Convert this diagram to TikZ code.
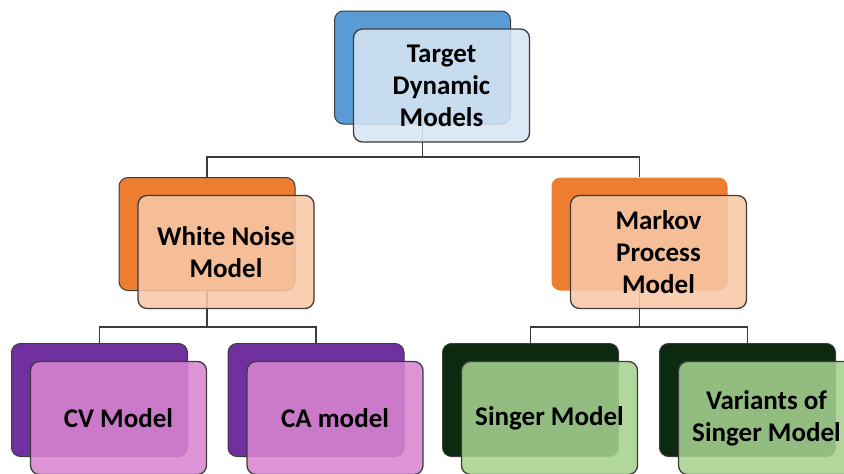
\documentclass[tikz,border=0pt]{standalone}
\usepackage{fontspec}
\setmainfont{Carlito}
\usetikzlibrary{backgrounds}

\definecolor{blueback}{RGB}{91,155,213}
\definecolor{bluefront}{RGB}{216,229,244}
\definecolor{orangeback}{RGB}{237,125,49}
\definecolor{orangefront}{RGB}{247,200,166}
\definecolor{purpleback}{RGB}{112,48,160}
\definecolor{purplefront}{RGB}{216,133,208}
\definecolor{greenback}{RGB}{12,42,15}
\definecolor{greenfront}{RGB}{166,210,144}
\definecolor{edge}{RGB}{60,60,60}

\tikzset{
  card/.style={rectangle, rounded corners=9pt, minimum width=176pt,
    minimum height=113pt, inner sep=0pt},
  backcard/.style={card, fill=#1, draw=edge, line width=1pt},
  backplain/.style={card, fill=#1},
  frontcard/.style={card, fill=#1, fill opacity=0.88, text opacity=1,
    draw=edge, draw opacity=1, line width=1.3pt, align=center,
    font=\bfseries\fontsize{27}{32}\selectfont},
  conn/.style={draw=edge, line width=1.3pt},
}

\begin{document}
\begin{tikzpicture}[x=1pt, y=-1pt]
  \clip (0,0) rectangle (844,474);

  % root
  \node[backcard=blueback] (top) at (422.5,67.5) {};
  \node[frontcard=bluefront] (topf) at (441.5,85.5) {Target\\Dynamic\\Models};

  % second level
  \node[backcard=orangeback] (white) at (207,234) {};
  \node[frontcard=orangefront] (whitef) at (226,252) {White Noise\\Model};
  \node[backplain=orangeback] (markov) at (639.5,234) {};
  \node[frontcard=orangefront] (markovf) at (658.5,252) {Markov\\Process\\Model};

  % leaves
  \node[backcard=purpleback] (cv) at (99.5,400) {};
  \node[frontcard=purplefront] (cvf) at (118.5,418) {CV Model};
  \node[backcard=purpleback] (ca) at (316,400) {};
  \node[frontcard=purplefront] (caf) at (335,418) {CA model};
  \node[backcard=greenback] (singer) at (530.5,400) {};
  \node[frontcard=greenfront] (singerf) at (549.5,418) {Singer Model};
  \node[backcard=greenback] (variants) at (747.5,400) {};
  \node[frontcard=greenfront] (variantsf) at (766.5,418) {Variants of\\Singer Model};

  % tree connectors
  \coordinate (bus0) at (422.5,157);
  \coordinate (bus1) at (207,327);
  \coordinate (bus2) at (639.5,327);
  \begin{scope}[on background layer]
    \draw[conn] (top.south) -- (bus0) -| (white.north);
    \draw[conn] (bus0) -| (markov.north);
    \draw[conn] (white.south) -- (bus1) -| (cv.north);
    \draw[conn] (bus1) -| (ca.north);
    \draw[conn] (markov.south) -- (bus2) -| (singer.north);
    \draw[conn] (bus2) -| (variants.north);
  \end{scope}
\end{tikzpicture}
\end{document}
